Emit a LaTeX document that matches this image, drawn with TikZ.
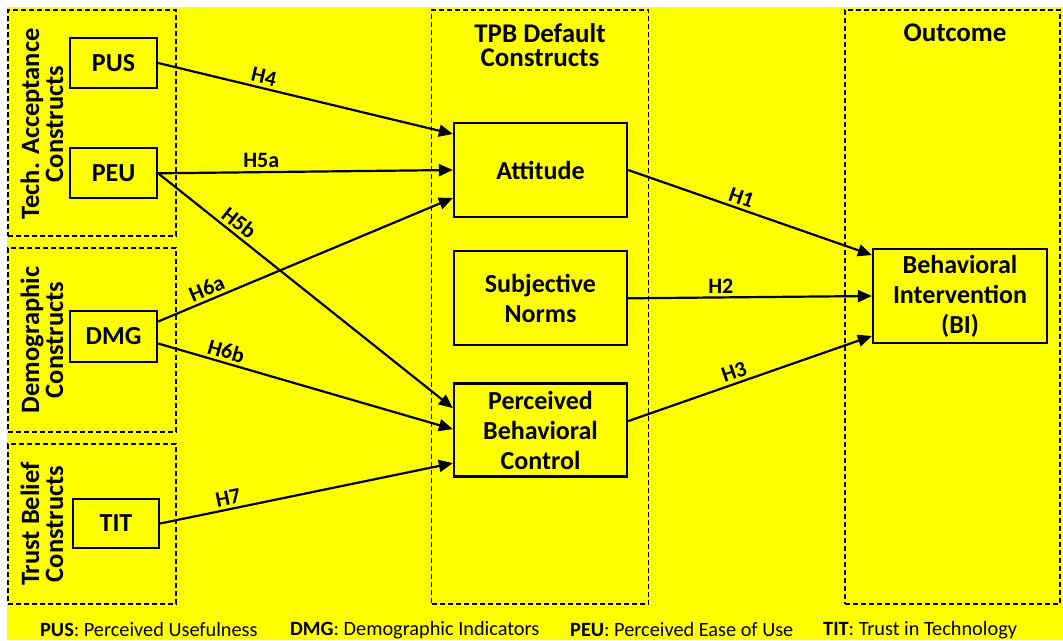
\documentclass[tikz,border=0pt]{standalone}
\usepackage{fontspec}
\setmainfont{Carlito}
\usepackage{tikz}
\usetikzlibrary{arrows.meta, positioning}
\definecolor{tpbyellow}{RGB}{255,255,0}

\begin{document}
\begin{tikzpicture}[x=1pt, y=-1pt,
  construct/.style={rectangle, draw=black, line width=2.3pt, fill=tpbyellow,
                    inner sep=0pt, align=center,
                    font=\fontsize{26}{30}\selectfont\bfseries},
  group/.style={rectangle, draw=black, line width=1.8pt,
                dash pattern=on 5pt off 3pt, inner sep=0pt},
  grplabel/.style={rotate=90, align=center,
                   font=\fontsize{26.5}{24}\selectfont\bfseries},
  header/.style={align=center, font=\fontsize{27}{24}\selectfont\bfseries},
  hyp/.style={font=\fontsize{22}{22}\selectfont\bfseries, inner sep=3pt},
  arrow/.style={-{Triangle[length=14pt, width=12pt]}, line width=2.2pt},
  legend/.style={anchor=west, inner sep=0pt, font=\fontsize{20.3}{20}\selectfont}
]
\useasboundingbox (0,0) rectangle (1063,640);
\fill[white] (0,0) rectangle (1063,640);
\fill[tpbyellow] (7,7) rectangle (1063,640);

% dashed groups
\node[group, minimum width=168pt, minimum height=226pt] (techgrp)  at (92,123)   {};
\node[group, minimum width=168pt, minimum height=184pt] (demogrp)  at (92,340)   {};
\node[group, minimum width=168pt, minimum height=160pt] (trustgrp) at (92,524)   {};
\node[group, minimum width=217pt, minimum height=594pt] (tpbgrp)   at (540,307)  {};
\node[group, minimum width=215pt, minimum height=594pt] (outgrp)   at (952.5,307) {};

\node[grplabel] (techlbl)  at (42,124) {Tech. Acceptance\\Constructs};
\node[grplabel] (demolbl)  at (42,340) {Demographic\\Constructs};
\node[grplabel] (trustlbl) at (42,524) {Trust Belief\\Constructs};
\node[header]   (tpblbl)   at (540,45) {TPB Default\\Constructs};
\node[header]   (outlbl)   at (955,33) {Outcome};

% constructs
\node[construct, minimum width=87pt, minimum height=50pt] (pus) at (113.5,63) {PUS};
\node[construct, minimum width=87pt, minimum height=50pt, below=58pt of pus] (peu) {PEU};
\node[construct, minimum width=87pt, minimum height=51pt] (dmg) at (113.5,336.5) {DMG};
\node[construct, minimum width=86pt, minimum height=49pt] (tit) at (116,523.5) {TIT};

\node[construct, minimum width=173pt, minimum height=94pt] (att) at (540.5,170) {Attitude};
\node[construct, minimum width=173pt, minimum height=94pt, below=32pt of att] (sn) {Subjective\\Norms};
\node[construct, minimum width=173pt, minimum height=93pt, below=36pt of sn] (pbc) {Perceived\\Behavioral\\Control};
\node[construct, minimum width=174pt, minimum height=94pt] (bi) at (960,296) {Behavioral\\Intervention\\(BI)};

% hypotheses
\draw[arrow] (pus.east) -- node[hyp, sloped, above, pos=0.35] {H4} ([yshift=36pt]att.west);
\draw[arrow] (peu.east) -- node[hyp, above, pos=0.35] {H5a} (att.west);
\draw[arrow] (peu.east) -- node[hyp, sloped, above, pos=0.25] {H5b} ([yshift=22pt]pbc.west);
\draw[arrow] ([yshift=15pt]dmg.east) -- node[hyp, sloped, above, pos=0.18] {H6a} ([yshift=-28pt]att.west);
\draw[arrow] ([yshift=-7pt]dmg.east) -- node[hyp, sloped, above, pos=0.22] {H6b} ([yshift=1pt]pbc.west);
\draw[arrow] (tit.east) -- node[hyp, sloped, above, pos=0.24] {H7} ([yshift=-33pt]pbc.west);
\draw[arrow] (att.east) -- node[hyp, sloped, above, pos=0.45] {H1} ([yshift=41pt]bi.west);
\draw[arrow] (sn.east) -- node[hyp, above, pos=0.38] {H2} (bi.west);
\draw[arrow] ([yshift=9pt]pbc.east) -- node[hyp, sloped, above, pos=0.45] {H3} ([yshift=-40pt]bi.west);

% legend
\node[legend] (legpus) at (40,630)  {\textbf{PUS}: Perceived Usefulness};
\node[legend] (legdmg) at (290,630) {\textbf{DMG}: Demographic Indicators};
\node[legend] (legpeu) at (570,630) {\textbf{PEU}: Perceived Ease of Use};
\node[legend] (legtit) at (823,630) {\textbf{TIT}: Trust in Technology};
\end{tikzpicture}
\end{document}
